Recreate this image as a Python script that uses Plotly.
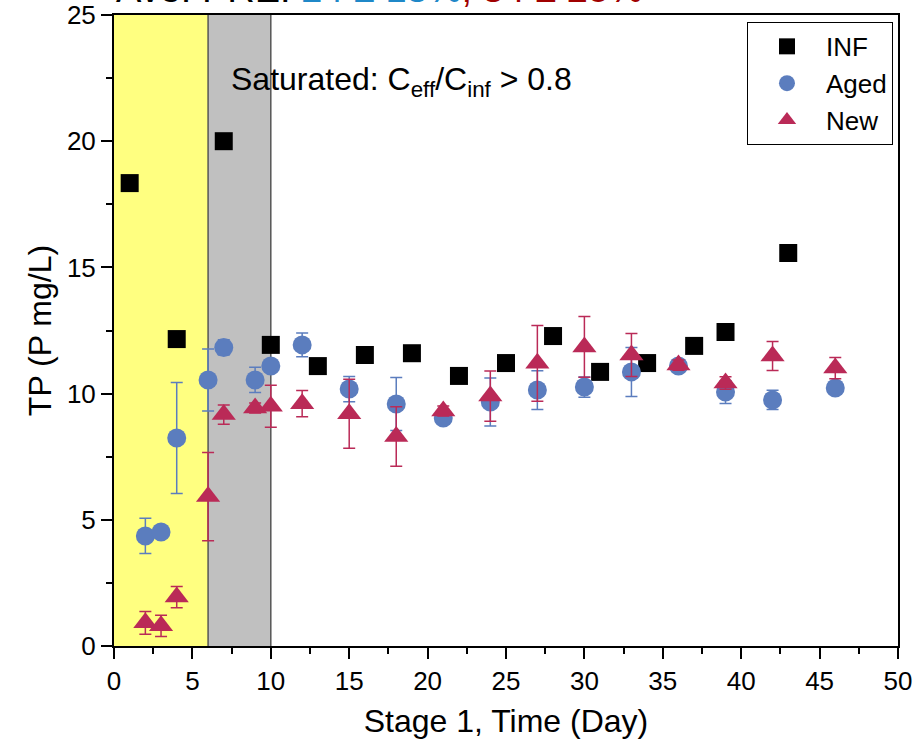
import plotly.graph_objects as go

# ---- data ----
inf_day = [1, 4, 7, 10, 13, 16, 19, 22, 25, 28, 31, 34, 37, 39, 43]
inf_tp = [18.34, 12.16, 20.0, 11.93, 11.09, 11.53, 11.6, 10.7, 11.21, 12.28, 10.86, 11.21, 11.89, 12.44, 15.57]

col_day = [2, 3, 4, 6, 7, 9, 10, 12, 15, 18, 21, 24, 27, 30, 33, 36, 39, 42, 46]
aged_tp = [4.36, 4.52, 8.24, 10.54, 11.83, 10.54, 11.09, 11.93, 10.18, 9.59, 9.03, 9.67, 10.14, 10.26, 10.86, 11.09, 10.06, 9.75, 10.22]
aged_err = [0.7, 0.0, 2.2, 1.23, 0.3, 0.5, 0.0, 0.47, 0.5, 1.05, 0.0, 0.95, 0.77, 0.4, 0.97, 0.0, 0.45, 0.38, 0.0]
new_tp = [0.92, 0.8, 1.94, 5.92, 9.17, 9.43, 9.5, 9.6, 9.2, 8.3, 9.31, 9.9, 11.2, 11.85, 11.53, 11.13, 10.42, 11.49, 11.01]
new_err = [0.45, 0.42, 0.42, 1.75, 0.38, 0.2, 0.83, 0.52, 1.37, 1.18, 0.2, 1.0, 1.5, 1.2, 0.85, 0.2, 0.25, 0.57, 0.42]

x_ticks = [0, 5, 10, 15, 20, 25, 30, 35, 40, 45, 50]
y_ticks = [0, 5, 10, 15, 20, 25]

yellow_span = (0, 6)
gray_span = (6, 10)

FONT = "Liberation Sans, Arial, sans-serif"
BLUE = "#5B7DBE"
RED = "#BA2A57"

fig = go.Figure()

fig.add_trace(go.Scatter(
    x=inf_day, y=inf_tp, mode="markers", name="INF",
    marker=dict(symbol="square", size=18, color="black"),
))
fig.add_trace(go.Scatter(
    x=col_day, y=aged_tp, mode="markers", name="Aged",
    marker=dict(symbol="circle", size=19, color=BLUE),
    error_y=dict(type="data", array=aged_err, visible=True, color=BLUE,
                 thickness=1.5, width=6),
))
fig.add_trace(go.Scatter(
    x=col_day, y=new_tp, mode="markers", name="New",
    marker=dict(symbol="triangle-up", size=21, color=RED),
    error_y=dict(type="data", array=new_err, visible=True, color=RED,
                 thickness=1.5, width=6),
))

# shaded regions
fig.add_shape(type="rect", xref="x", yref="y", x0=yellow_span[0], x1=yellow_span[1],
              y0=0, y1=25, fillcolor="#FFFF80", line=dict(width=0), layer="below")
fig.add_shape(type="rect", xref="x", yref="y", x0=gray_span[0], x1=gray_span[1],
              y0=0, y1=25, fillcolor="#C0C0C0", line=dict(width=0), layer="below")
for xv in (yellow_span[1], gray_span[1]):
    fig.add_shape(type="line", xref="x", yref="y", x0=xv, x1=xv, y0=0, y1=25,
                  line=dict(color="#555555", width=1.5), layer="below")

fig.add_annotation(
    x=7.35, y=22.35, xref="x", yref="y", xanchor="left", yanchor="middle",
    text="Saturated: C<sub>eff</sub>/C<sub>inf</sub> > 0.8", showarrow=False,
    font=dict(family=FONT, size=32, color="black"),
)
fig.add_annotation(
    x=0, y=1.005, xref="paper", yref="paper", xanchor="left", yanchor="bottom",
    text="Ave. PRE: <span style='color:#1F88C8'>24 ± 18%</span><span style='color:#A00000'>, 84 ± 25%</span>",
    showarrow=False, font=dict(family=FONT, size=38, color="black"),
)

axis_common = dict(
    showline=True, linecolor="black", linewidth=2, mirror=True,
    ticks="outside", ticklen=11, tickwidth=2, tickcolor="black",
    showgrid=False, zeroline=False, automargin=False,
    ticklabeloverflow="allow",
    tickfont=dict(family=FONT, size=26, color="black"),
)

fig.update_xaxes(
    range=[0, 50], tickmode="array", tickvals=x_ticks,
    minor=dict(ticks="outside", ticklen=6, tickwidth=2, dtick=2.5, tick0=0, tickcolor="black"),
    title=dict(text="Stage 1, Time (Day)", font=dict(family=FONT, size=32, color="black"), standoff=14),
    **axis_common,
)
fig.update_yaxes(
    range=[0, 25], tickmode="array", tickvals=y_ticks,
    minor=dict(ticks="outside", ticklen=6, tickwidth=2, dtick=2.5, tick0=0, tickcolor="black"),
    title=dict(text="TP (P mg/L)", font=dict(family=FONT, size=32, color="black"), standoff=6),
    **axis_common,
)

fig.update_layout(
    width=915, height=746,
    margin=dict(l=114, r=17, t=15, b=100),
    plot_bgcolor="white", paper_bgcolor="white",
    font=dict(family=FONT, color="black"),
    legend=dict(
        x=0.9936, y=0.989, xanchor="right", yanchor="top",
        bordercolor="black", borderwidth=1, bgcolor="white",
        font=dict(family=FONT, size=26, color="black"),
        itemwidth=68, tracegroupgap=0,
    ),
)

# remove the browser's default 8 px body margin so the figure sits at the window origin
fig.write_html("out.html", config={"displayModeBar": False},
               post_script="document.body.style.margin='0';")
